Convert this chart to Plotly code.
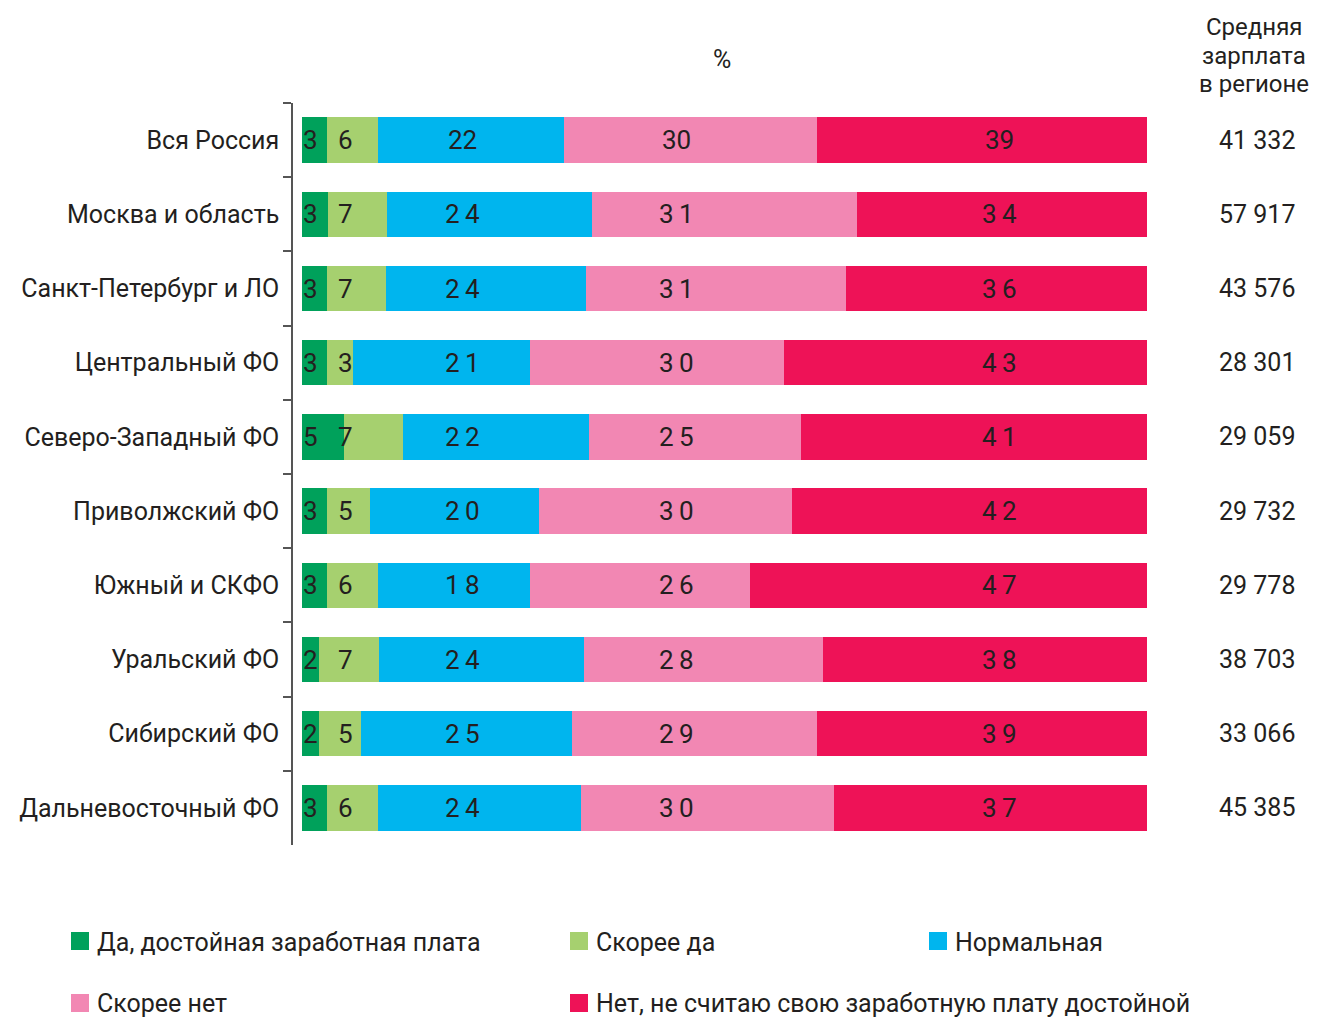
import plotly.graph_objects as go

regions = ["Вся Россия", "Москва и область", "Санкт-Петербург и ЛО", "Центральный ФО",
           "Северо-Западный ФО", "Приволжский ФО", "Южный и СКФО", "Уральский ФО",
           "Сибирский ФО", "Дальневосточный ФО"]
answers = ["Да, достойная заработная плата", "Скорее да", "Нормальная",
           "Скорее нет", "Нет, не считаю свою заработную плату достойной"]
yes = [3, 3, 3, 3, 5, 3, 3, 2, 2, 3]
rather_yes = [6, 7, 7, 3, 7, 5, 6, 7, 5, 6]
normal = [22, 24, 24, 21, 22, 20, 18, 24, 25, 24]
rather_no = [30, 31, 31, 30, 25, 30, 26, 28, 29, 30]
no = [39, 34, 36, 43, 41, 42, 47, 38, 39, 37]
salary = ["41 332", "57 917", "43 576", "28 301", "29 059", "29 732", "29 778",
          "38 703", "33 066", "45 385"]
header = ["Средняя", "зарплата", "в регионе"]

series = [yes, rather_yes, normal, rather_no, no]
colors = ["#00A15B", "#A6D06F", "#00B5EE", "#F287B3", "#EE1257"]
label_x = [0.95, 5.2, 19.0, 44.3, 82.5]   # fixed label columns, as in the original

FONT = "Roboto, Arial, sans-serif"
INK = "#231F20"
OFF = 8   # page body margin in the browser

# plot area in screen pixels: left 293, right 1147, top 103, bottom 845
L, R, T, B = 293, 1147, 103, 845
def px(x):
    return (x - L) / (R - L)
def py(y):
    return (B - y) / (B - T)

fig = go.Figure()
for name, vals, col in zip(answers, series, colors):
    fig.add_trace(go.Bar(y=regions, x=vals, name=name, orientation="h",
                         marker=dict(color=col, line_width=0), width=0.61,
                         showlegend=False, hoverinfo="x+y"))

ann = []
for vals, lx in zip(series, label_x):
    for i, (reg, v) in enumerate(zip(regions, vals)):
        txt = "\u2009".join(str(v)) if i > 0 else str(v)
        ann.append(dict(x=lx, y=reg, text=txt, showarrow=False, xanchor="center",
                        font=dict(size=26, color=INK, family=FONT)))
for reg, s in zip(regions, salary):
    ann.append(dict(xref="paper", x=px(1257), y=reg, text=s, showarrow=False,
                    xanchor="center", font=dict(size=25, color=INK, family=FONT)))

for line, hy in zip(header, [27, 56, 84]):
    ann.append(dict(xref="paper", yref="paper", x=px(1254), y=py(hy), text=line,
                    showarrow=False, xanchor="center", yanchor="middle",
                    font=dict(size=24, color=INK, family=FONT)))
ann.append(dict(xref="paper", yref="paper", x=px(722), y=py(60), text="%", showarrow=False,
                yanchor="middle", font=dict(size=25, color=INK, family=FONT)))

# legend drawn by hand: three columns, two rows
leg_pos = [(71, 942), (570, 942), (929, 942), (71, 1004), (570, 1004)]
shapes = []
for (lx, ly), name, col in zip(leg_pos, answers, colors):
    shapes.append(dict(type="rect", xref="paper", yref="paper", x0=px(lx), x1=px(lx + 18),
                       y0=py(ly - 10), y1=py(ly + 8), fillcolor=col, line_width=0))
    ann.append(dict(xref="paper", yref="paper", x=px(lx + 24), y=py(ly), text=name,
                    showarrow=False, xanchor="left", yanchor="middle",
                    font=dict(size=25, color=INK, family=FONT)))

fig.update_layout(
    width=1317 - OFF, height=1017 - OFF, barmode="stack", barnorm="percent", bargap=0.39,
    margin=dict(l=L - OFF, r=1317 - R, t=T - OFF, b=1017 - B, autoexpand=False),
    plot_bgcolor="white", paper_bgcolor="white",
    font=dict(family=FONT, color=INK, size=25),
    annotations=ann, shapes=shapes,
    xaxis=dict(range=[-1.065, 100], visible=False, fixedrange=True),
    yaxis=dict(autorange="reversed", automargin=False, showline=True, linecolor="#555555",
               linewidth=1.5, ticks="outside", tickson="boundaries", ticklen=8,
               tickcolor="#555555", tickwidth=1.5, showgrid=False, ticklabelstandoff=7,
               tickfont=dict(size=25, color=INK, family=FONT)),
)

fig.write_html("out.html")
